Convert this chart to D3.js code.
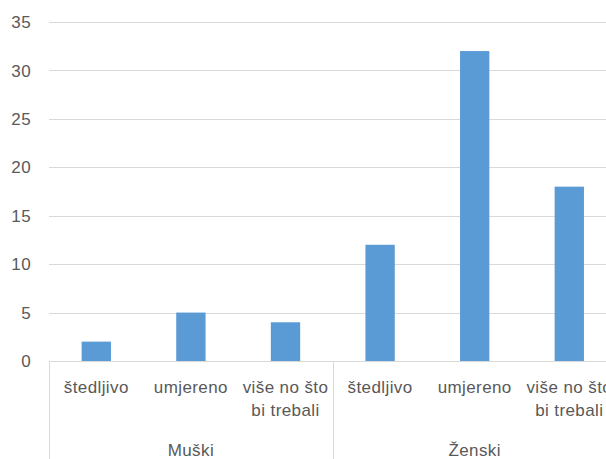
<!DOCTYPE html>
<html><head><meta charset="utf-8">
<script src="https://cdn.jsdelivr.net/npm/d3@7"></script>
<style>body{margin:0;background:#fff}svg{display:block}</style>
</head><body>
<script>
const groups = ["Muški", "Ženski"];
const subcats = ["štedljivo", "umjereno", "više no što bi trebali"];
const values = [2, 5, 4, 12, 32, 18];
const yTicks = [0, 5, 10, 15, 20, 25, 30, 35];

(function () {
const W = 606, H = 459;
const mLeft = 49, mTop = 22, mBottom = 361;
const step = 94.6;
const keys = [];
groups.forEach((g, gi) => subcats.forEach((s, si) => keys.push(gi + "|" + si)));

const svg = d3.select("body").append("svg").attr("width", W).attr("height", H);
const x = d3.scaleBand().domain(keys).range([mLeft, mLeft + step * keys.length]).paddingInner(0.69).paddingOuter(0.345);
const y = d3.scaleLinear().domain([0, 35]).range([mBottom, mTop]);
const font = "'Liberation Sans', Arial, sans-serif";
const fs = 17, ls0 = "0.4px";

svg.append("g").selectAll("line").data(yTicks).join("line")
  .attr("x1", mLeft).attr("x2", W).attr("y1", d => Math.round(y(d)) + 0.5).attr("y2", d => Math.round(y(d)) + 0.5)
  .attr("stroke", "#d9d9d9").attr("stroke-width", 1);

svg.append("g").selectAll("text").data(yTicks).join("text")
  .attr("x", 31).attr("y", d => y(d)).attr("dy", "0.36em").attr("text-anchor", "end")
  .attr("font-family", font).attr("font-size", fs).attr("letter-spacing", ls0).attr("fill", "#595959").text(d => d);

svg.append("g").selectAll("rect").data(values).join("rect")
  .attr("x", (d, i) => x(keys[i])).attr("width", x.bandwidth())
  .attr("y", d => y(d)).attr("height", d => y(0) - y(d))
  .attr("fill", "#5b9bd5");

const divs = [mLeft, mLeft + step * 3];
svg.append("g").selectAll("line").data(divs).join("line")
  .attr("x1", d => Math.round(d) + 0.5).attr("x2", d => Math.round(d) + 0.5)
  .attr("y1", mBottom).attr("y2", H).attr("stroke", "#d9d9d9");

const lines = {"više no što bi trebali": ["više no što", "bi trebali"]};
keys.forEach((k, i) => {
  const s = subcats[+k.split("|")[1]];
  const ls = lines[s] || [s];
  const t = svg.append("text").attr("text-anchor", "middle")
    .attr("font-family", font).attr("font-size", fs).attr("letter-spacing", ls0).attr("fill", "#595959");
  ls.forEach((l, li) => t.append("tspan").attr("x", x(k) + x.bandwidth() / 2).attr("y", 393 + li * 23).text(l));
});

groups.forEach((g, gi) => {
  svg.append("text").attr("x", mLeft + step * (gi * 3 + 1.5)).attr("y", 456).attr("text-anchor", "middle")
    .attr("font-family", font).attr("font-size", fs).attr("letter-spacing", ls0).attr("fill", "#595959").text(g);
});
})();
</script>
</body></html>
